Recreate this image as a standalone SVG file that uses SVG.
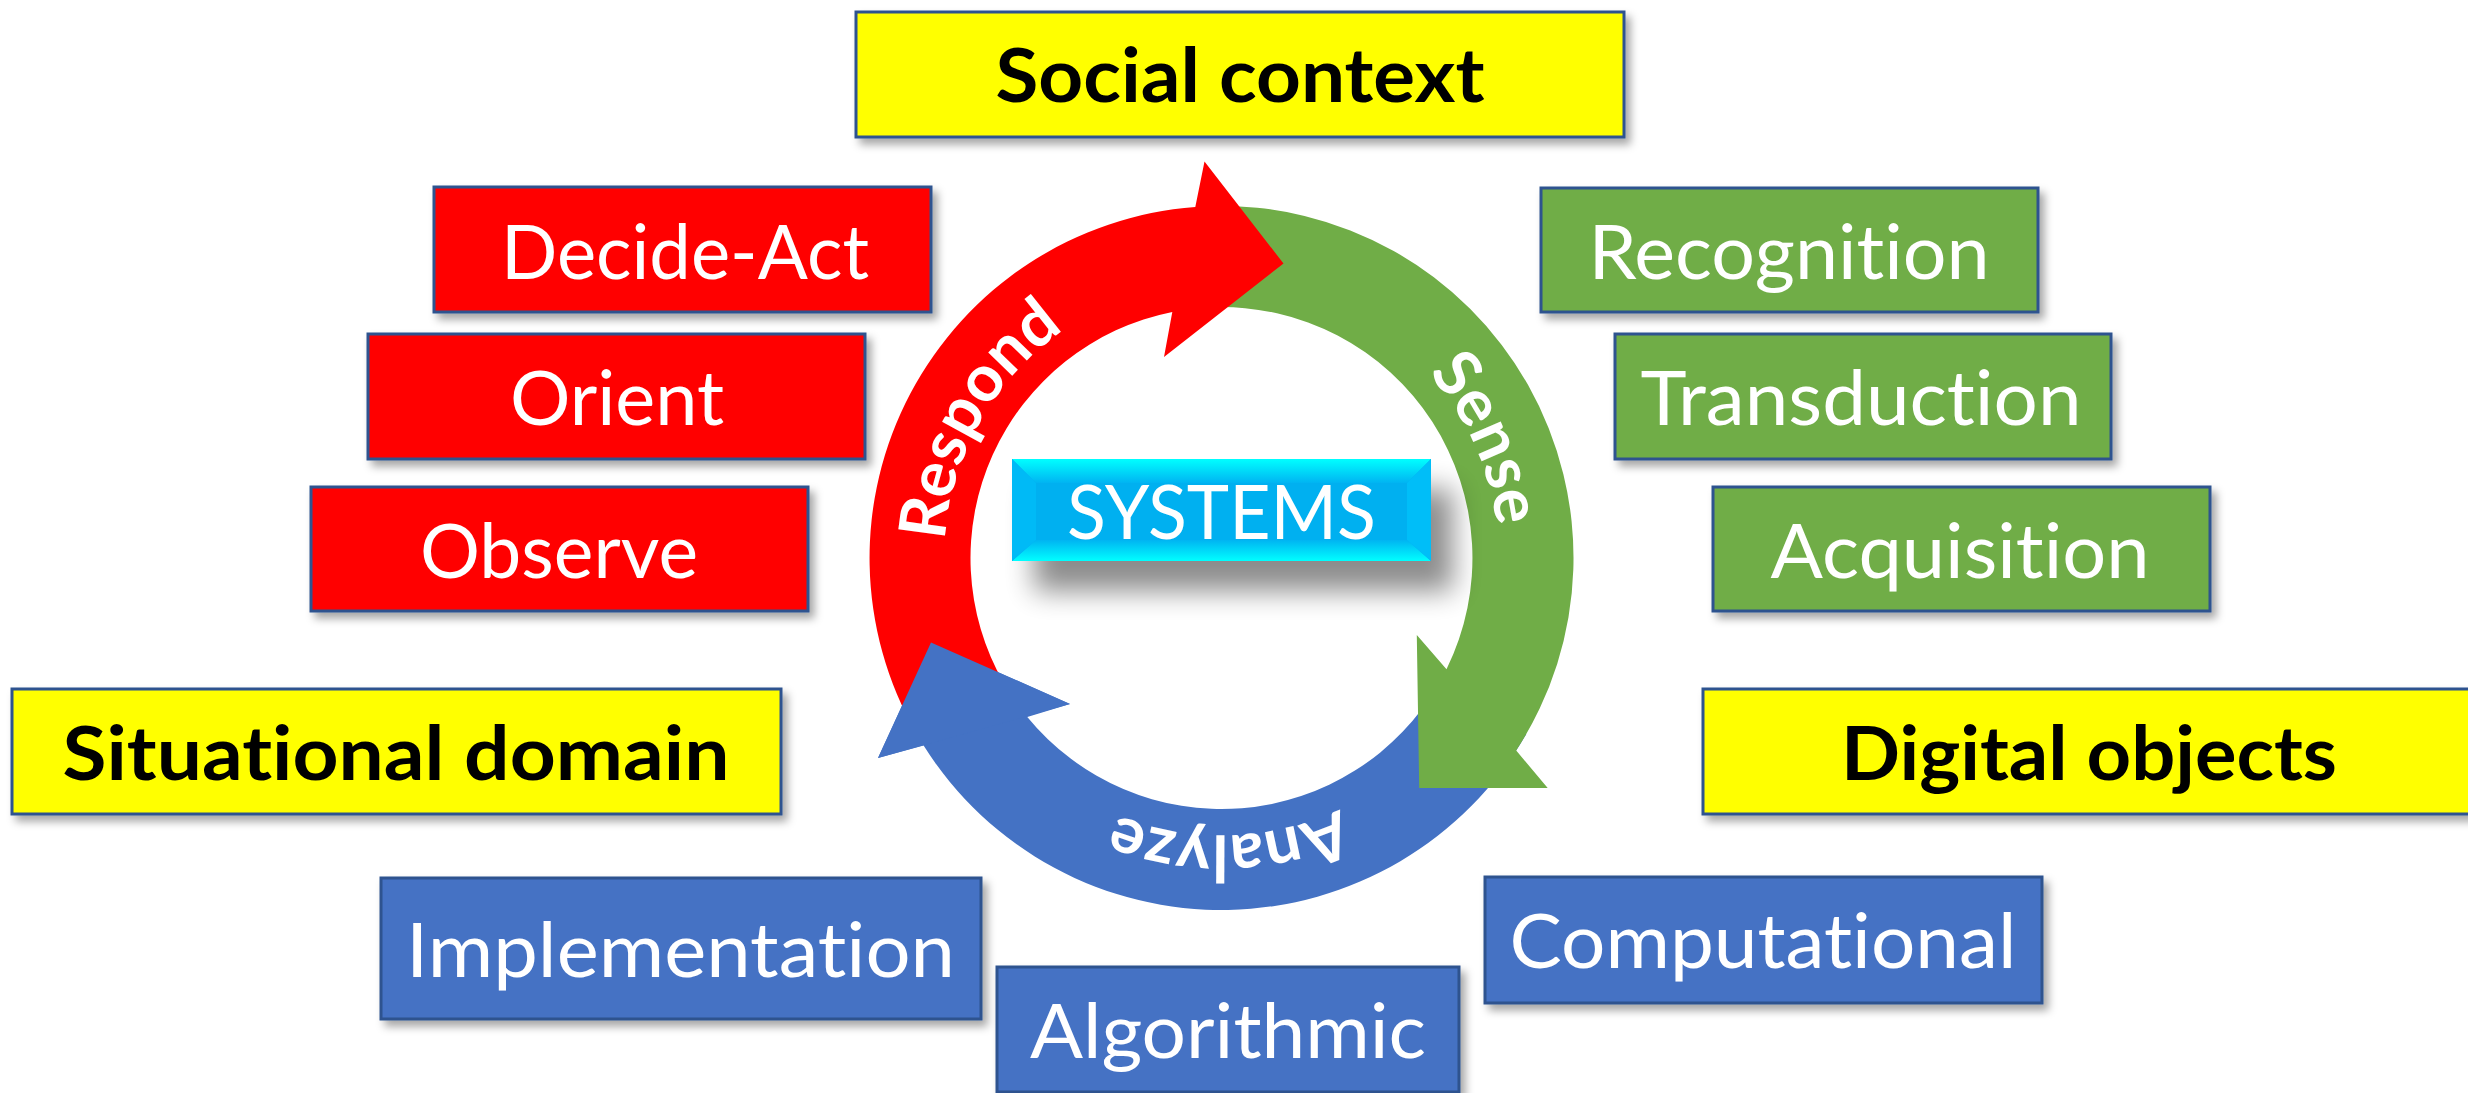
<svg xmlns="http://www.w3.org/2000/svg" width="2468" height="1093" viewBox="0 0 2468 1093">
<style>
text{font-variant-ligatures:none;font-feature-settings:"liga" 0,"clig" 0}
.box{stroke:#2F528F;stroke-width:3;filter:url(#sh)}
.y{fill:#FFFF00}
.r{fill:#FF0000}
.g{fill:#70AD47}
.b{fill:#4472C4}
.lb{font-family:Lato,"Liberation Sans",sans-serif;font-weight:bold;font-size:75px;fill:#000;text-anchor:middle}
.lw{font-family:Lato,"Liberation Sans",sans-serif;font-size:75px;fill:#fff;text-anchor:middle}
.ring{font-family:Lato,"Liberation Sans",sans-serif;font-weight:bold;font-size:65px;fill:#fff;text-anchor:middle}
</style>
<defs>
<filter id="sh" x="-10%" y="-20%" width="130%" height="150%">
<feDropShadow dx="5" dy="6" stdDeviation="4" flood-color="#000" flood-opacity="0.35"/>
</filter>
<filter id="blur" x="-30%" y="-60%" width="160%" height="220%">
<feGaussianBlur stdDeviation="14"/>
</filter>
<linearGradient id="gtop" x1="0" y1="0" x2="0" y2="1">
<stop offset="0" stop-color="#00FFFF"/><stop offset="1" stop-color="#00B4F2"/>
</linearGradient>
<linearGradient id="gbot" x1="0" y1="0" x2="0" y2="1">
<stop offset="0" stop-color="#00B4F2"/><stop offset="1" stop-color="#00FFFF"/>
</linearGradient>
<path id="circ" d="M 1498.5 558 A 277 277 0 1 1 944.5 558 A 277 277 0 1 1 1498.5 558"/>
</defs>
<rect width="2468" height="1093" fill="#fff"/>

<g id="cycle">
<path id="arrow-analyze" class="b" d="M 1526.3 734 A 352 352 0 0 1 923.6 745.6 L 878 758 L 931 642.5 L 1070 704 L 1027.3 717 A 251 251 0 0 0 1438.9 683.5 Z"/>
<path id="arrow-sense" class="g" d="M 1209.2 206.2 A 352 352 0 0 1 1516.2 750.5 L 1547.7 788 L 1419.2 788 L 1416.8 635 L 1446.5 669.2 A 251 251 0 0 0 1212.7 307.2 Z"/>
<path id="arrow-respond" class="r" d="M 916.7 734 A 352 352 0 0 1 1195.3 207 L 1204.5 161.4 L 1283.5 263.5 L 1164 357 L 1172.3 311.9 A 251 251 0 0 0 1004.1 683.5 Z"/>
<polygon id="arrow-analyze-head" class="b" points="878,758 931,642.5 1070,704"/>
<text class="ring"><textPath href="#circ" startOffset="1012.8">Respond</textPath></text>
<text class="ring"><textPath href="#circ" startOffset="1623.4">Sense</textPath></text>
<text class="ring"><textPath href="#circ" startOffset="427.9">Analyze</textPath></text>
</g>

<g id="systems">
<rect x="1034" y="489" width="419" height="102" fill="#000" opacity="0.45" filter="url(#blur)"/>
<rect x="1012" y="459" width="419" height="102" fill="#00B0F0"/>
<polygon points="1012,459 1431,459 1407,483 1036,483" fill="url(#gtop)"/>
<polygon points="1012,561 1431,561 1407,540 1036,540" fill="url(#gbot)"/>
<polygon points="1012,459 1036,483 1036,540 1012,561" fill="#00BAF6"/>
<polygon points="1431,459 1407,483 1407,540 1431,561" fill="#00BEF8"/>
<text x="1221.5" y="539" class="lw" textLength="309" lengthAdjust="spacingAndGlyphs">SYSTEMS</text>
</g>

<g id="social-context">
<rect class="box y" x="856" y="12" width="768" height="125"/>
<text class="lb" x="1240" y="102" textLength="489" lengthAdjust="spacingAndGlyphs">Social context</text>
</g>
<g id="situational-domain">
<rect class="box y" x="12" y="689" width="769" height="125"/>
<text class="lb" x="396" y="780" textLength="667" lengthAdjust="spacingAndGlyphs">Situational domain</text>
</g>
<g id="digital-objects">
<rect class="box y" x="1703" y="689" width="780" height="125"/>
<text class="lb" x="2089" y="780" textLength="496" lengthAdjust="spacingAndGlyphs">Digital objects</text>
</g>

<g id="decide-act">
<rect class="box r" x="434" y="187" width="497" height="125"/>
<text class="lw" x="685" y="279" textLength="368" lengthAdjust="spacingAndGlyphs">Decide-Act</text>
</g>
<g id="orient">
<rect class="box r" x="368" y="334" width="497" height="125"/>
<text class="lw" x="617" y="425" textLength="214" lengthAdjust="spacingAndGlyphs">Orient</text>
</g>
<g id="observe">
<rect class="box r" x="311" y="487" width="497" height="124"/>
<text class="lw" x="559" y="578" textLength="278" lengthAdjust="spacingAndGlyphs">Observe</text>
</g>

<g id="recognition">
<rect class="box g" x="1541" y="188" width="497" height="124"/>
<text class="lw" x="1789" y="279" textLength="401" lengthAdjust="spacingAndGlyphs">Recognition</text>
</g>
<g id="transduction">
<rect class="box g" x="1615" y="334" width="496" height="125"/>
<text class="lw" x="1861" y="425" textLength="441" lengthAdjust="spacingAndGlyphs">Transduction</text>
</g>
<g id="acquisition">
<rect class="box g" x="1713" y="487" width="497" height="124"/>
<text class="lw" x="1960" y="578" textLength="379" lengthAdjust="spacingAndGlyphs">Acquisition</text>
</g>

<g id="implementation">
<rect class="box b" x="381" y="878" width="600" height="141"/>
<text class="lw" x="680.5" y="977" textLength="549" lengthAdjust="spacingAndGlyphs">Implementation</text>
</g>
<g id="algorithmic">
<rect class="box b" x="997" y="967" width="462" height="125"/>
<text class="lw" x="1228" y="1058" textLength="396" lengthAdjust="spacingAndGlyphs">Algorithmic</text>
</g>
<g id="computational">
<rect class="box b" x="1485" y="877" width="557" height="126"/>
<text class="lw" x="1763" y="968" textLength="507" lengthAdjust="spacingAndGlyphs">Computational</text>
</g>
</svg>
